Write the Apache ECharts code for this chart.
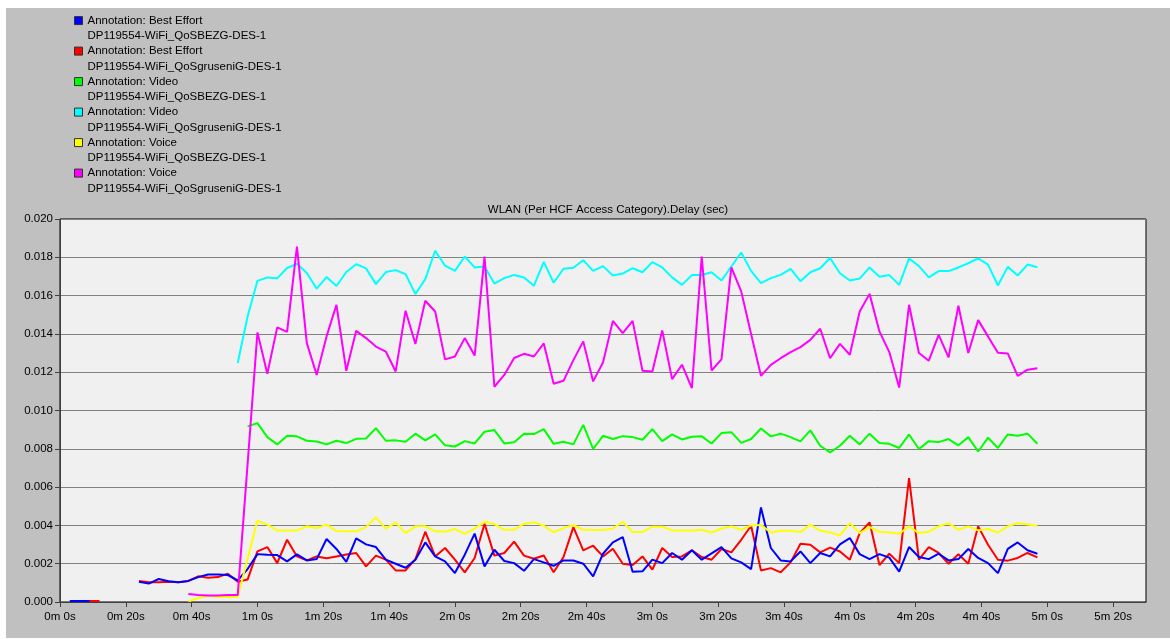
<!DOCTYPE html>
<html>
<head>
<meta charset="utf-8">
<script src="https://cdn.jsdelivr.net/npm/echarts@6/dist/echarts.min.js"></script>
<style>
  body { margin: 0; background: #fff; }
  #bg { position: absolute; left: 6px; top: 8px; width: 1164px; height: 630px; background: #c0c0c0; }
  #main { position: absolute; left: 0; top: 0; width: 1170px; height: 639px; }
</style>
</head>
<body>
<div id="bg"></div>
<div id="main"></div>
<script>
// sample bucket, seconds
const step = 3;

const legendNames = [
  'Annotation: Best Effort\nDP119554-WiFi_QoSBEZG-DES-1',
  'Annotation: Best Effort\nDP119554-WiFi_QoSgruseniG-DES-1',
  'Annotation: Video\nDP119554-WiFi_QoSBEZG-DES-1',
  'Annotation: Video\nDP119554-WiFi_QoSgruseniG-DES-1',
  'Annotation: Voice\nDP119554-WiFi_QoSBEZG-DES-1',
  'Annotation: Voice\nDP119554-WiFi_QoSgruseniG-DES-1'
];
const colors = ['#0000ff', '#ff0000', '#00ff00', '#00ffff', '#ffff00', '#ff00ff'];

// first sample time of each series (s)
const starts = [3, 3, 57, 54, 39, 39];

const beBEZG = [
  0.00005, 0.00005, 0.00005, null, null, null, null,
  0.00106, 0.00096, 0.00120, 0.00108, 0.00103, 0.00110, 0.00130, 0.00144, 0.00144, 0.00141,
  0.00113, 0.00172, 0.00250, 0.00247, 0.00245, 0.00212, 0.00249, 0.00217, 0.00224,
  0.00329, 0.00277, 0.00210, 0.00332, 0.00301, 0.00287, 0.00221, 0.00200, 0.00179, 0.00221,
  0.00311, 0.00238, 0.00212, 0.00151, 0.00247, 0.00357, 0.00186, 0.00273, 0.00214, 0.00203,
  0.00163, 0.00224, 0.00207, 0.00189, 0.00217, 0.00217, 0.00200, 0.00134, 0.00252, 0.00311,
  0.00339, 0.00158, 0.00160, 0.00221, 0.00203, 0.00256, 0.00221, 0.00270, 0.00221, 0.00254,
  0.00287, 0.00228, 0.00207, 0.00172, 0.00494, 0.00282, 0.00217, 0.00212, 0.00264, 0.00203,
  0.00256, 0.00238, 0.00301, 0.00334, 0.00250, 0.00224, 0.00250, 0.00232, 0.00159,
  0.00287, 0.00235, 0.00224, 0.00252, 0.00217, 0.00224, 0.00277, 0.00230, 0.00203, 0.00151,
  0.00277, 0.00311, 0.00270, 0.00252
];
const beGruseni = [
  0.00005, 0.00005, 0.00005, 0.00005, null, null, null,
  0.00110, 0.00103, 0.00103, 0.00106, 0.00103, 0.00110, 0.00134, 0.00127, 0.00130, 0.00148,
  0.00106, 0.00117, 0.00264, 0.00287, 0.00203, 0.00325, 0.00238, 0.00217, 0.00238,
  0.00228, 0.00238, 0.00248, 0.00256, 0.00186, 0.00242, 0.00221, 0.00165, 0.00165, 0.00224,
  0.00367, 0.00238, 0.00282, 0.00221, 0.00155, 0.00230, 0.00409, 0.00242, 0.00256, 0.00315,
  0.00242, 0.00226, 0.00243, 0.00155, 0.00235, 0.00391, 0.00270, 0.00294, 0.00238, 0.00278,
  0.00200, 0.00193, 0.00238, 0.00169, 0.00282, 0.00235, 0.00238, 0.00270, 0.00235, 0.00221,
  0.00277, 0.00259, 0.00325, 0.00398, 0.00165, 0.00177, 0.00155, 0.00207, 0.00304, 0.00299,
  0.00259, 0.00284, 0.00264, 0.00221, 0.00360, 0.00416, 0.00193, 0.00252, 0.00203,
  0.00647, 0.00221, 0.00287, 0.00256, 0.00200, 0.00249, 0.00200, 0.00395, 0.00299, 0.00221,
  0.00216, 0.00230, 0.00256, 0.00233
];
const videoBEZG = [
  0.00917, 0.00934, 0.00861, 0.00823, 0.00868, 0.00865, 0.00842, 0.00838,
  0.00823, 0.00842, 0.00830, 0.00852, 0.00854, 0.00908, 0.00842, 0.00844, 0.00837, 0.00879,
  0.00844, 0.00875, 0.00818, 0.00812, 0.00840, 0.00828, 0.00889, 0.00898, 0.00828, 0.00834,
  0.00879, 0.00877, 0.00903, 0.00826, 0.00837, 0.00823, 0.00925, 0.00799, 0.00868, 0.00851,
  0.00866, 0.00861, 0.00847, 0.00903, 0.00840, 0.00875, 0.00849, 0.00863, 0.00865, 0.00828,
  0.00882, 0.00887, 0.00831, 0.00851, 0.00906, 0.00865, 0.00879, 0.00861, 0.00839, 0.00896,
  0.00816, 0.00781, 0.00816, 0.00868, 0.00823, 0.00879, 0.00830, 0.00826, 0.00804,
  0.00875, 0.00799, 0.00840, 0.00835, 0.00851, 0.00818, 0.00861, 0.00786, 0.00858, 0.00804,
  0.00875, 0.00868, 0.00879, 0.00826
];
const videoGruseni = [
  0.01248, 0.01491, 0.01677, 0.01695, 0.01690, 0.01744, 0.01766, 0.01718, 0.01636,
  0.01697, 0.01650, 0.01723, 0.01764, 0.01742, 0.01660, 0.01723, 0.01733, 0.01712, 0.01608,
  0.01686, 0.01834, 0.01756, 0.01729, 0.01804, 0.01747, 0.01752, 0.01663, 0.01691, 0.01708,
  0.01695, 0.01651, 0.01776, 0.01667, 0.01740, 0.01745, 0.01785, 0.01729, 0.01754, 0.01705,
  0.01715, 0.01743, 0.01722, 0.01775, 0.01747, 0.01695, 0.01656, 0.01707, 0.01708, 0.01722,
  0.01679, 0.01752, 0.01825, 0.01729, 0.01665, 0.01691, 0.01708, 0.01740, 0.01675, 0.01722,
  0.01743, 0.01796, 0.01717, 0.01679, 0.01689, 0.01747, 0.01698, 0.01707, 0.01656,
  0.01794, 0.01754, 0.01695, 0.01728, 0.01728, 0.01747, 0.01769, 0.01794, 0.01762, 0.01653,
  0.01750, 0.01705, 0.01762, 0.01748
];
const voiceBEZG = [
  0.00003, 0.00021, 0.00033, 0.00026, 0.00026, 0.00026, 0.00226, 0.00424, 0.00404, 0.00374,
  0.00374, 0.00374, 0.00395, 0.00386,
  0.00404, 0.00371, 0.00369, 0.00369, 0.00391, 0.00442, 0.00383, 0.00416, 0.00360, 0.00395,
  0.00395, 0.00369, 0.00367, 0.00381, 0.00357, 0.00383, 0.00419, 0.00407, 0.00377, 0.00377,
  0.00409, 0.00417, 0.00398, 0.00364, 0.00386, 0.00402, 0.00377, 0.00376, 0.00376, 0.00384,
  0.00419, 0.00365, 0.00365, 0.00393, 0.00393, 0.00374, 0.00374, 0.00374, 0.00377, 0.00363,
  0.00384, 0.00395, 0.00377, 0.00400, 0.00402, 0.00363, 0.00372, 0.00372, 0.00365, 0.00404,
  0.00372, 0.00363, 0.00348, 0.00412, 0.00360, 0.00391, 0.00367, 0.00363, 0.00357,
  0.00395, 0.00360, 0.00367, 0.00395, 0.00412, 0.00377, 0.00395, 0.00374, 0.00381, 0.00363,
  0.00395, 0.00412, 0.00405, 0.00398
];
const voiceGruseni = [
  0.00042, 0.00037, 0.00034, 0.00034, 0.00036, 0.00036, 0.00720, 0.01408, 0.01192, 0.01434,
  0.01411, 0.01856, 0.01352, 0.01186,
  0.01387, 0.01552, 0.01207, 0.01416, 0.01378, 0.01334, 0.01308, 0.01204, 0.01521, 0.01348,
  0.01573, 0.01517, 0.01267, 0.01282, 0.01378, 0.01287, 0.01804, 0.01124, 0.01186, 0.01274,
  0.01296, 0.01282, 0.01350, 0.01140, 0.01155, 0.01263, 0.01361, 0.01152, 0.01251, 0.01468,
  0.01404, 0.01468, 0.01207, 0.01204, 0.01418, 0.01164, 0.01239, 0.01117, 0.01804, 0.01209,
  0.01267, 0.01747, 0.01622, 0.01399, 0.01181, 0.01238, 0.01273, 0.01305, 0.01331, 0.01369,
  0.01427, 0.01273, 0.01348, 0.01291, 0.01517, 0.01609, 0.01413, 0.01305, 0.01120,
  0.01552, 0.01300, 0.01260, 0.01395, 0.01277, 0.01547, 0.01300, 0.01472, 0.01387, 0.01301,
  0.01298, 0.01181, 0.01213, 0.01221
];

const allValues = [beBEZG, beGruseni, videoBEZG, videoGruseni, voiceBEZG, voiceGruseni];
// drawing order: blue lies over red in the picture
const drawOrder = [1, 0, 2, 4, 3, 5];

const font = "'Liberation Sans', Arial, sans-serif";

function timeLabel(v) {
  if (v % 20 !== 0) return '';
  return Math.floor(v / 60) + 'm ' + (v % 60) + 's';
}

const chart = echarts.init(document.getElementById('main'));

const series = drawOrder.map(function (k) {
  return {
    name: legendNames[k],
    type: 'line',
    symbol: 'none',
    connectNulls: false,
    color: colors[k],
    lineStyle: { width: 2, color: colors[k] },
    data: allValues[k].map(function (v, i) { return [starts[k] + step * i, v]; })
  };
});

chart.setOption({
  animation: false,
  backgroundColor: 'transparent',
  title: {
    text: 'WLAN (Per HCF Access Category).Delay (sec)',
    left: 603,
    top: 199,
    textAlign: 'center',
    textStyle: { fontFamily: font, fontSize: 11.5, fontWeight: 'normal', color: '#000' }
  },
  legend: {
    data: legendNames,
    orient: 'vertical',
    left: 74,
    top: 13,
    padding: 0,
    itemGap: 0,
    itemWidth: 8,
    itemHeight: 29.5,
    // square on the first text line; the empty sub-paths stretch the box over both lines
    icon: 'path://M0,3.1h8v8h-8z M0,0L0,0 M0,29.5L0,29.5',
    itemStyle: { borderColor: '#303030', borderWidth: 1 },
    formatter: function (name) {
      return name.split('\n').map(function (s) { return '{t|' + s + '}'; }).join('\n');
    },
    textStyle: {
      fontFamily: font, fontSize: 11.5, color: '#000',
      rich: { t: { fontFamily: font, fontSize: 11.5, color: '#000', lineHeight: 15.25, height: 15.25 } }
    }
  },
  grid: {
    left: 60, top: 219, right: 24, bottom: 37,
    show: true,
    backgroundColor: '#f0f0f0',
    borderColor: '#000',
    borderWidth: 1
  },
  xAxis: {
    type: 'value',
    min: 0, max: 330, interval: 20,
    axisLine: { show: true, lineStyle: { color: '#404040', width: 1 } },
    axisTick: { show: true, length: 5, lineStyle: { color: '#404040' } },
    axisLabel: {
      formatter: timeLabel, showMaxLabel: false, margin: 9,
      fontFamily: font, fontSize: 11.5, color: '#000'
    },
    splitLine: { show: false }
  },
  yAxis: {
    type: 'value',
    min: 0, max: 0.02, interval: 0.002,
    axisLine: { show: true, lineStyle: { color: '#404040', width: 1 } },
    axisTick: { show: true, length: 5, lineStyle: { color: '#404040' } },
    axisLabel: {
      formatter: function (v) { return v.toFixed(3); }, margin: 7,
      fontFamily: font, fontSize: 11.5, color: '#000'
    },
    splitLine: { show: true, lineStyle: { color: '#808080', width: 1 } }
  },
  series: series
});
</script>
</body>
</html>
